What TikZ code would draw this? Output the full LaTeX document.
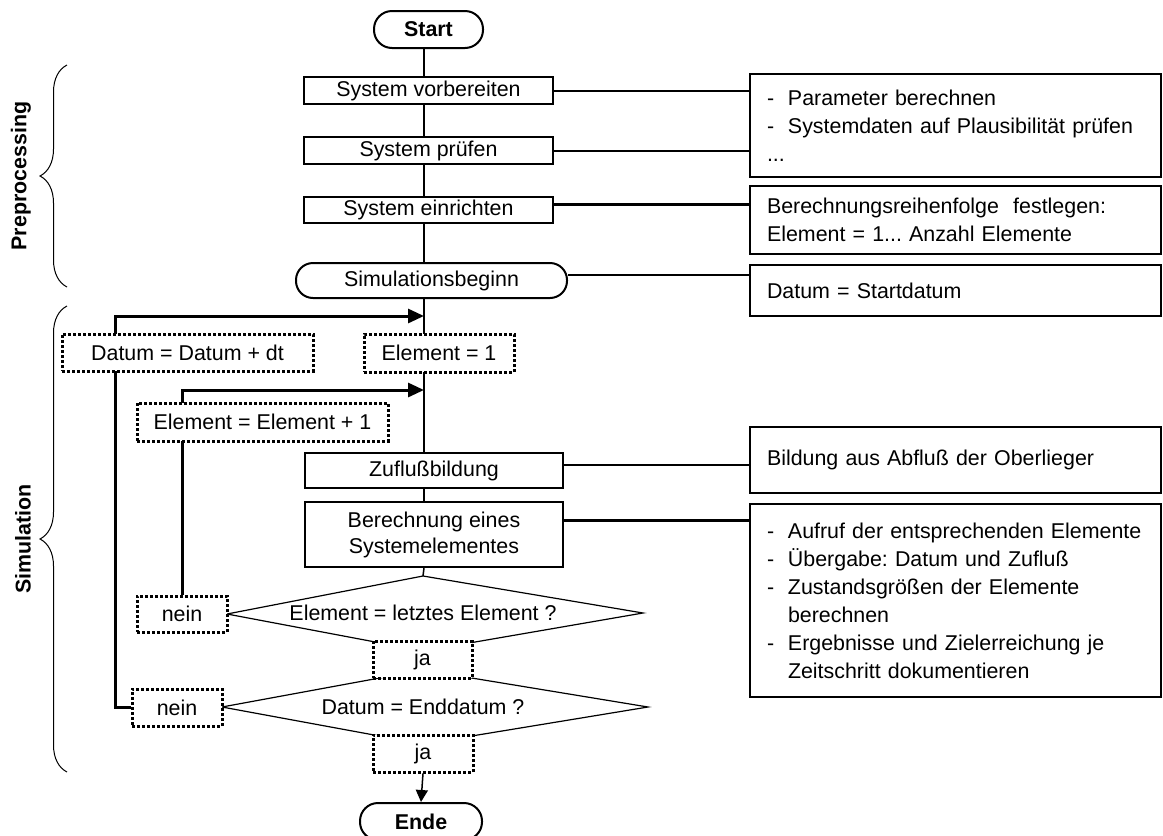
\documentclass[tikz,border=0pt]{standalone}
\usepackage{fontspec}
\setmainfont{Liberation Sans}
\usetikzlibrary{arrows.meta,decorations.pathreplacing,backgrounds}
\frenchspacing
\begin{document}
\begin{tikzpicture}[x=0.5pt,y=-0.5pt,
  every node/.style={font=\fontsize{10.7pt}{13pt}\selectfont, inner sep=0pt},
  pbox/.style={draw,fill=white,line width=1pt,align=center},
  rbox/.style={pbox,rounded corners=8.5pt},
  dbox/.style={draw,fill=white,line width=1.5pt,dash pattern=on 1.5pt off 1pt},
  note/.style={draw,fill=white,line width=1pt,minimum width=205.5pt,text width=188.5pt,
    align=left,inner xsep=8.5pt,font=\fontsize{10.7pt}{14pt}\selectfont},
  axisline/.style={line width=0.75pt},
  conn/.style={line width=1pt},
  thickconn/.style={line width=1.5pt},
  loopline/.style={line width=1.5pt},
  loopend/.style={loopline,-{Triangle[length=8pt,width=7pt]}},
  diam/.style={line width=0.6pt,fill=white},
  brace/.style={decorate,decoration={brace,amplitude=13.5pt},line width=0.5pt},
  side/.style={rotate=90,font=\fontsize{10.7pt}{13pt}\selectfont\bfseries}
]
\useasboundingbox (0,0) rectangle (1163,836);
\newcommand{\dash}{\makebox[10.5pt][l]{-}}

% coordinates
\coordinate (ax) at (424,0);
\coordinate (A1) at (424,316);
\coordinate (L1) at (115,316);
\coordinate (A2) at (424,390);
\coordinate (d1t) at (423,576);
\coordinate (d1r) at (643,613);
\coordinate (d1b) at (423,651);
\coordinate (d1l) at (227,614);
\coordinate (d2t) at (423,670);
\coordinate (d2r) at (648,707);
\coordinate (d2b) at (423,744);
\coordinate (d2l) at (222,707);

% main flow nodes
\node[rbox,minimum width=54.5pt,minimum height=18.5pt,rounded corners=9pt,font=\fontsize{10.7pt}{13pt}\selectfont\bfseries] (start) at (428.5,29.5) {Start};
\node[pbox,minimum width=124.5pt,minimum height=13.5pt] (prep1) at (428.5,90.5) {System vorbereiten};
\node[pbox,minimum width=124.5pt,minimum height=13.5pt] (prep2) at (428.5,150.5) {System prüfen};
\node[pbox,minimum width=124.5pt,minimum height=13pt] (prep3) at (428.5,210) {System einrichten};
\node[rbox,minimum width=135.5pt,minimum height=17.5pt] (simbeg) at (431.5,280.5) {Simulationsbeginn};
\node[dbox,minimum width=125.5pt,minimum height=18.5pt] (datum) at (187.5,352.5) {Datum = Datum + dt};
\node[dbox,minimum width=75pt,minimum height=19pt] (el1) at (439,353) {Element = 1};
\node[dbox,minimum width=125.5pt,minimum height=19pt] (elp) at (262.5,422) {Element = Element + 1};
\node[pbox,minimum width=129pt,minimum height=17.5pt] (zufl) at (434,470.5) {Zuflußbildung};
\node[pbox,minimum width=129pt,minimum height=32.5pt] (ber) at (434,534.5) {Berechnung eines\\Systemelementes};
\node (q1) at (423,613) {Element = letztes Element ?};
\node (q2) at (423,707) {Datum = Enddatum ?};
\node[dbox,minimum width=45pt,minimum height=18pt] (nein1) at (182,614) {nein};
\node[dbox,minimum width=49.5pt,minimum height=18.5pt] (ja1) at (422.5,659.5) {ja};
\node[dbox,minimum width=45pt,minimum height=18.5pt] (nein2) at (177,707.5) {nein};
\node[dbox,minimum width=50pt,minimum height=18.5pt] (ja2) at (423,753.5) {ja};
\node[rbox,minimum width=61pt,minimum height=18.5pt,rounded corners=9pt,font=\fontsize{10.7pt}{13pt}\selectfont\bfseries] (ende) at (421,821.5) {Ende};

% notes on the right
\node[note,minimum height=51.5pt] (rb1) at (955.5,125.5) {\dash Parameter berechnen\\\dash Systemdaten auf Plausibilität prüfen\\...};
\node[note,minimum height=34pt] (rb2) at (955.5,220) {Berechnungsreihenfolge\ \ festlegen:\\Element = 1... Anzahl Elemente};
\node[note,minimum height=25.5pt] (rb3) at (955.5,290.5) {Datum = Startdatum};
\node[note,minimum height=33pt] (rb4) at (955.5,460) {Bildung aus Abfluß der Oberlieger};
\node[note,minimum height=96.5pt] (rb5) at (955.5,600.5) {\dash Aufruf der entsprechenden Elemente\\\dash Übergabe: Datum und Zufluß\\\dash Zustandsgrößen der Elemente\\\hspace*{10.5pt}berechnen\\\dash Ergebnisse und Zielerreichung je\\\hspace*{10.5pt}Zeitschritt dokumentieren};

% side labels and braces
\node[side] (lprep) at (21,176) {Preprocessing};
\node[side] (lsim) at (23,539) {Simulation};
\draw[brace] (67,287) -- (67,65);
\draw[brace] (67,772) -- (67,306);

\begin{pgfonlayer}{background}
  % main axis
  \draw[axisline] (start.south -| ax) -- (prep1.north -| ax);
  \draw[axisline] (prep1.south -| ax) -- (prep2.north -| ax);
  \draw[axisline] (prep2.south -| ax) -- (prep3.north -| ax);
  \draw[axisline] (prep3.south -| ax) -- (simbeg.north -| ax);
  \draw[axisline] (simbeg.south -| ax) -- (zufl.north -| ax);
  \draw[axisline] (zufl.south -| ax) -- (ber.north -| ax);
  \draw[axisline] (ber.south -| ax) -- (d1t);
  % decision diamonds
  \draw[diam] (d1t) -- (d1r) -- (d1b) -- (d1l) -- cycle;
  \draw[diam] (d2t) -- (d2r) -- (d2b) -- (d2l) -- cycle;
  % loops
  \draw[loopend] (nein2.west) -| (L1) -- (A1);
  \draw[loopend] (nein1.north) |- (A2);
  % connectors to notes
  \draw[conn] (prep1.east) -- (prep1.east -| rb1.west);
  \draw[conn] (prep2.east) -- (prep2.east -| rb1.west);
  \draw[thickconn] ([yshift=3pt]prep3.east) -- ([yshift=3pt]prep3.east -| rb2.west);
  \draw[conn] ([yshift=2.75pt]simbeg.east) -- ([yshift=2.75pt]simbeg.east -| rb3.west);
  \draw[conn] ([yshift=2.75pt]zufl.east) -- ([yshift=2.75pt]zufl.east -| rb4.west);
  \draw[thickconn] ([yshift=7.25pt]ber.east) -- ([yshift=7.25pt]ber.east -| rb5.west);
\end{pgfonlayer}
\draw[axisline,-{Triangle[length=6pt,width=6pt]}] (ja2.south) -- (ende.north);
\end{tikzpicture}
\end{document}
